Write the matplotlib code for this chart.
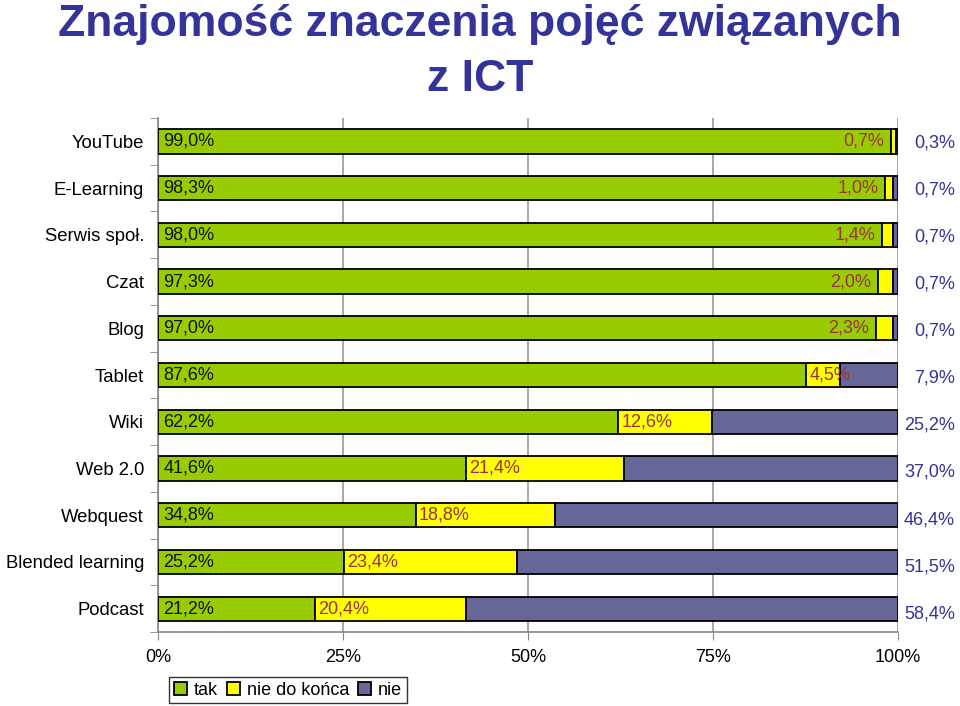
import numpy as np
import matplotlib
matplotlib.use('Agg')
import matplotlib.pyplot as plt
from matplotlib.ticker import FixedLocator

plt.rcParams['font.family'] = ['Liberation Sans', 'DejaVu Sans']

# dane
categories = ['YouTube', 'E-Learning', 'Serwis społ.', 'Czat', 'Blog', 'Tablet',
              'Wiki', 'Web 2.0', 'Webquest', 'Blended learning', 'Podcast']
tak = [99.0, 98.3, 98.0, 97.3, 97.0, 87.6, 62.2, 41.6, 34.8, 25.2, 21.2]
nie_do_konca = [0.7, 1.0, 1.4, 2.0, 2.3, 4.5, 12.6, 21.4, 18.8, 23.4, 20.4]
nie = [0.3, 0.7, 0.7, 0.7, 0.7, 7.9, 25.2, 37.0, 46.4, 51.5, 58.4]
series_names = ['tak', 'nie do końca', 'nie']
x_ticks = [0, 25, 50, 75, 100]

colors = ['#99CC00', '#FFFF00', '#666699']
title_color = '#333399'
mid_label_color = '#993344'


def fmt(v):
    return f'{v:.1f}%'.replace('.', ',')


fig = plt.figure(figsize=(9.6, 7.06), dpi=100)
ax = fig.add_axes([0.1646, 0.1048, 0.7708, 0.728])

y = np.arange(len(categories))
tak_a = np.array(tak)
ndk_a = np.array(nie_do_konca)
nie_a = np.array(nie)
# szerokości skalowane do 100%
total = tak_a + ndk_a + nie_a
tak_w = tak_a / total * 100
ndk_w = ndk_a / total * 100
nie_w = nie_a / total * 100

h = 0.52
ax.barh(y, tak_w, height=h, color=colors[0], edgecolor='black', linewidth=1.3,
        label=series_names[0], zorder=3)
ax.barh(y, ndk_w, left=tak_w, height=h, color=colors[1], edgecolor='black',
        linewidth=1.3, label=series_names[1], zorder=3)
ax.barh(y, nie_w, left=tak_w + ndk_w, height=h, color=colors[2], edgecolor='black',
        linewidth=1.3, label=series_names[2], zorder=3)

# etykiety danych
for i in range(len(categories)):
    ax.text(0.7, y[i], fmt(tak[i]), ha='left', va='center', fontsize=13,
            color='#111111', zorder=4)
    if nie_do_konca[i] < 3:
        ax.text(tak_w[i] - 0.9, y[i], fmt(nie_do_konca[i]), ha='right', va='center',
                fontsize=13, color=mid_label_color, zorder=4)
    else:
        ax.text(tak_w[i] + 0.4, y[i], fmt(nie_do_konca[i]), ha='left', va='center',
                fontsize=13, color=mid_label_color, zorder=4)
    ax.text(107.7, y[i] + 0.03 + 0.008 * i, fmt(nie[i]), ha='right', va='center',
            fontsize=13, color=title_color, clip_on=False)

ax.set_xlim(0, 100)
ax.set_ylim(len(categories) - 0.5, -0.5)
ax.set_xticks(x_ticks)
ax.set_xticklabels([f'{t}%' for t in x_ticks], fontsize=13)
ax.set_yticks(y)
ax.set_yticklabels(categories, fontsize=13.3)
ax.tick_params(axis='y', length=0, pad=10)
ax.yaxis.set_minor_locator(FixedLocator(np.arange(-0.5, len(categories), 1.0)))
ax.tick_params(axis='y', which='minor', length=6, color='#888888', direction='out')
ax.tick_params(axis='x', length=6, color='#888888', pad=6)
ax.grid(axis='x', color='#999999', linewidth=1.2, zorder=0)

for s in ['top', 'right']:
    ax.spines[s].set_visible(False)
for s in ['left', 'bottom']:
    ax.spines[s].set_color('#888888')
    ax.spines[s].set_linewidth(1.2)

# tytuł w dwóch wierszach
fig.text(0.5, 1 - 36 / 706, 'Znajomość znaczenia pojęć związanych', ha='center',
         va='baseline', fontsize=32, fontweight='bold', color=title_color)
fig.text(0.5, 1 - 91 / 706, 'z ICT', ha='center',
         va='baseline', fontsize=32, fontweight='bold', color=title_color)

leg = fig.legend(loc='center', bbox_to_anchor=(0.300, 0.022), ncol=3, fontsize=13,
                 frameon=True, fancybox=False, edgecolor='black', handlelength=0.7,
                 handleheight=0.7, handletextpad=0.4, columnspacing=0.5,
                 borderpad=0.25, borderaxespad=0)
leg.get_frame().set_linewidth(1.0)

plt.savefig('out.png', dpi=100)
plt.close()
